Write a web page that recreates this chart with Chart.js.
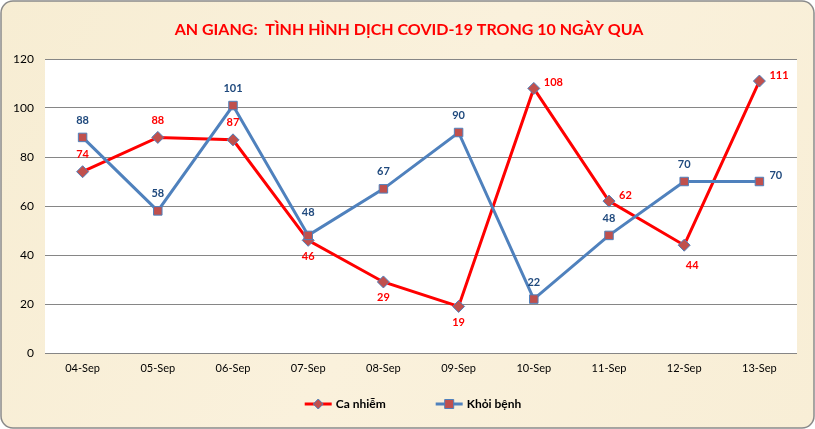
<!DOCTYPE html>
<html>
<head>
<meta charset="utf-8">
<script src="https://cdn.jsdelivr.net/npm/chart.js@4.4.0/dist/chart.umd.min.js"></script>
<style>
  html, body { margin: 0; padding: 0; background: #fff; }
  #wrap { width: 815px; height: 429px; position: relative; }
</style>
</head>
<body>
<div id="wrap"><canvas id="covidChart" width="815" height="429"></canvas></div>
<script>
// data
const days = ['04-Sep', '05-Sep', '06-Sep', '07-Sep', '08-Sep', '09-Sep', '10-Sep', '11-Sep', '12-Sep', '13-Sep'];
const caNhiem = [74, 88, 87, 46, 29, 19, 108, 62, 44, 111];
const khoiBenh = [88, 58, 101, 48, 67, 90, 22, 48, 70, 70];
const yTicks = [0, 20, 40, 60, 80, 100, 120];

// where each value label sits relative to its point
const caNhiemLabelPos = ['top', 'top', 'top', 'bottom', 'bottom', 'bottom', 'right', 'right', 'bottomright', 'right'];
const khoiBenhLabelPos = ['top', 'top', 'top', 'hightop', 'top', 'top', 'top', 'top', 'top', 'right'];

const FONT = 'Lato, "Open Sans", sans-serif';

// background, white plot area, title
const frame = {
    id: 'frame',
    beforeDraw(chart) {
        const ctx = chart.ctx;
        const w = chart.width, h = chart.height;
        ctx.save();
        ctx.fillStyle = '#fff';
        ctx.fillRect(0, 0, w, h);
        const r = 12;
        ctx.beginPath();
        ctx.moveTo(1 + r, 1);
        ctx.arcTo(w - 1, 1, w - 1, h - 1, r);
        ctx.arcTo(w - 1, h - 1, 1, h - 1, r);
        ctx.arcTo(1, h - 1, 1, 1, r);
        ctx.arcTo(1, 1, w - 1, 1, r);
        ctx.closePath();
        const g = ctx.createLinearGradient(0, 0, w, h);
        g.addColorStop(0, '#f7edd3');
        g.addColorStop(0.5, '#faf1dc');
        g.addColorStop(1, '#f8eed6');
        ctx.fillStyle = g;
        ctx.fill();
        ctx.lineWidth = 1.5;
        ctx.strokeStyle = '#8a8a8a';
        ctx.stroke();
        const a = chart.chartArea;
        ctx.fillStyle = '#ffffff';
        ctx.fillRect(a.left, a.top, a.right - a.left, a.bottom - a.top);
        ctx.fillStyle = '#ff0000';
        ctx.font = 'bold 16px ' + FONT;
        ctx.textAlign = 'center';
        ctx.textBaseline = 'middle';
        ctx.fillText('AN GIANG:  TÌNH HÌNH DỊCH COVID-19 TRONG 10 NGÀY QUA', 409, 30);
        ctx.restore();
    }
};

// value labels next to the points
const valueLabels = {
    id: 'valueLabels',
    afterDatasetsDraw(chart) {
        const ctx = chart.ctx;
        ctx.save();
        ctx.font = 'bold 11px ' + FONT;
        chart.data.datasets.forEach((ds, i) => {
            const meta = chart.getDatasetMeta(i);
            meta.data.forEach((pt, j) => {
                const pos = ds.labelPos[j];
                let x = pt.x, y = pt.y;
                ctx.textBaseline = 'middle';
                ctx.textAlign = 'center';
                if (pos === 'top') y -= 17;
                else if (pos === 'hightop') y -= 23;
                else if (pos === 'bottom') y += 16;
                else if (pos === 'right') { ctx.textAlign = 'left'; x += 10; y -= 6; }
                else if (pos === 'bottomright') { x += 8; y += 20; }
                ctx.fillStyle = ds.labelColor;
                ctx.fillText(String(ds.data[j]), x, y);
            });
        });
        ctx.restore();
    }
};

// legend: line with marker then name
const lineLegend = {
    id: 'lineLegend',
    afterDraw(chart) {
        const ctx = chart.ctx;
        ctx.save();
        ctx.font = 'bold 12px ' + FONT;
        ctx.textBaseline = 'middle';
        const items = chart.data.datasets.map(ds => ({ ds, tw: ctx.measureText(ds.label).width }));
        const lineW = 27, gap = 4, sep = 50;
        let total = 0;
        items.forEach((it, k) => { total += lineW + gap + it.tw + (k ? sep : 0); });
        let x = 413 - total / 2;
        const y = 404;
        items.forEach((it, k) => {
            if (k) x += sep;
            const ds = it.ds;
            ctx.strokeStyle = ds.borderColor;
            ctx.lineWidth = 3;
            ctx.beginPath();
            ctx.moveTo(x, y);
            ctx.lineTo(x + lineW, y);
            ctx.stroke();
            const cx = x + lineW / 2;
            ctx.fillStyle = ds.pointBackgroundColor;
            ctx.strokeStyle = ds.pointBorderColor;
            ctx.lineWidth = 1;
            ctx.beginPath();
            if (ds.pointStyle === 'rectRot') {
                ctx.moveTo(cx, y - 5); ctx.lineTo(cx + 5, y); ctx.lineTo(cx, y + 5); ctx.lineTo(cx - 5, y);
                ctx.closePath();
            } else {
                ctx.rect(cx - 4.5, y - 4.5, 9, 9);
            }
            ctx.fill();
            ctx.stroke();
            ctx.fillStyle = '#000';
            ctx.textAlign = 'left';
            ctx.fillText(ds.label, x + lineW + gap, y);
            x += lineW + gap + it.tw;
        });
        ctx.restore();
    }
};

const data = {
    labels: days,
    datasets: [{
        label: 'Ca nhiễm',
        data: caNhiem,
        borderColor: '#ff0000',
        borderWidth: 3,
        pointStyle: 'rectRot',
        pointRadius: 6,
        pointBackgroundColor: '#c0504d',
        pointBorderColor: '#4f81bd',
        pointBorderWidth: 1,
        labelColor: '#ff0000',
        labelPos: caNhiemLabelPos,
        order: 2
    }, {
        label: 'Khỏi bệnh',
        data: khoiBenh,
        borderColor: '#4f81bd',
        borderWidth: 3,
        pointStyle: 'rect',
        pointRadius: 6,
        pointBackgroundColor: '#c0504d',
        pointBorderColor: '#4f81bd',
        pointBorderWidth: 1,
        labelColor: '#1f497d',
        labelPos: khoiBenhLabelPos,
        order: 1
    }]
};

const config = {
    type: 'line',
    data: data,
    plugins: [frame, valueLabels, lineLegend],
    options: {
        responsive: false,
        animation: false,
        events: [],
        layout: { padding: { left: 0, right: 18, top: 59, bottom: 46 } },
        plugins: { legend: { display: false }, title: { display: false }, tooltip: { enabled: false } },
        scales: {
            x: {
                offset: true,
                grid: { display: false, drawTicks: false },
                border: { display: false },
                ticks: { color: '#000', font: { family: FONT, size: 11 }, padding: 9, maxRotation: 0 },
                afterFit(s) { s.height = 30; }
            },
            y: {
                min: 0,
                max: 120,
                afterBuildTicks(s) { s.ticks = yTicks.map(v => ({ value: v })); },
                grid: { color: '#868686', lineWidth: 1, drawTicks: false },
                border: { display: false },
                ticks: { color: '#000', font: { family: FONT, size: 12 }, padding: 11 },
                afterFit(s) { s.width = 45; }
            }
        }
    }
};

const covidChart = new Chart(document.getElementById('covidChart'), config);
</script>
</body>
</html>
